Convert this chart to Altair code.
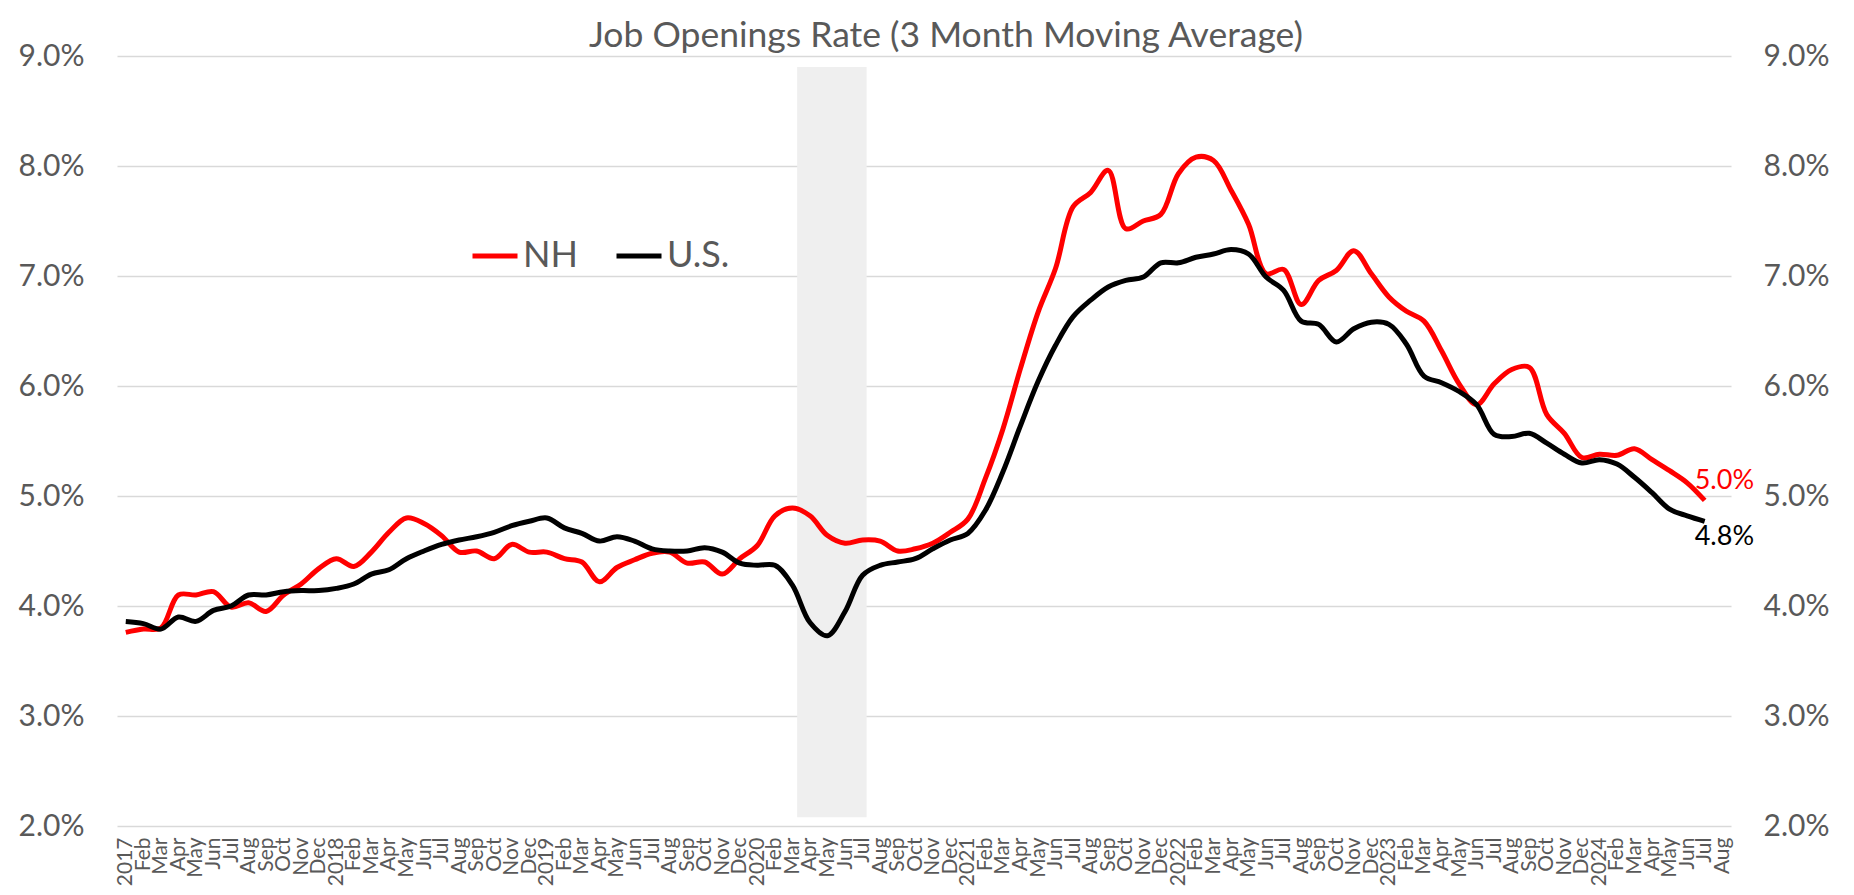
import altair as alt
import pandas as pd

# ---- data (monthly, Jan 2017 .. Jul 2024; axis runs to Aug 2024) ----
years = ["2017", "2018", "2019", "2020", "2021", "2022", "2023", "2024"]
month_abbr = ["Feb", "Mar", "Apr", "May", "Jun", "Jul", "Aug", "Sep", "Oct", "Nov", "Dec"]
tick_labels = []
for y in years:
    tick_labels += [y] + month_abbr
tick_labels = tick_labels[:92]  # 2017 .. Aug 2024

nh = [3.76, 3.79, 3.80, 4.10, 4.10, 4.13, 3.99, 4.03, 3.95, 4.10, 4.20, 4.34,
      4.43, 4.36, 4.49, 4.67, 4.80, 4.75, 4.64, 4.49, 4.50, 4.43, 4.56, 4.49,
      4.49, 4.43, 4.40, 4.22, 4.35, 4.42, 4.48, 4.49, 4.39, 4.40, 4.29, 4.43,
      4.55, 4.82, 4.89, 4.82, 4.64, 4.57, 4.60, 4.59, 4.50, 4.52, 4.57, 4.67,
      4.79, 5.16, 5.61, 6.16, 6.67, 7.07, 7.63, 7.76, 7.96, 7.43, 7.50, 7.56,
      7.93, 8.08, 8.05, 7.78, 7.47, 7.02, 7.06, 6.74, 6.96, 7.05, 7.23, 7.02,
      6.81, 6.68, 6.59, 6.32, 6.02, 5.83, 6.02, 6.15, 6.17, 5.74, 5.57, 5.35,
      5.38, 5.37, 5.43, 5.33, 5.23, 5.12, 4.96]

us = [3.86, 3.84, 3.79, 3.90, 3.86, 3.96, 4.00, 4.10, 4.10, 4.13, 4.14, 4.14,
      4.16, 4.20, 4.29, 4.33, 4.43, 4.50, 4.56, 4.60, 4.63, 4.67, 4.73, 4.77,
      4.80, 4.71, 4.66, 4.59, 4.63, 4.59, 4.52, 4.50, 4.50, 4.53, 4.49, 4.39,
      4.37, 4.37, 4.19, 3.85, 3.73, 3.95, 4.28, 4.37, 4.40, 4.43, 4.52, 4.60,
      4.66, 4.87, 5.22, 5.64, 6.04, 6.37, 6.63, 6.78, 6.90, 6.96, 6.99, 7.12,
      7.12, 7.17, 7.20, 7.24, 7.20, 6.99, 6.87, 6.59, 6.56, 6.40, 6.52, 6.58,
      6.56, 6.38, 6.09, 6.03, 5.95, 5.83, 5.56, 5.54, 5.57, 5.48, 5.38, 5.30,
      5.33, 5.29, 5.17, 5.03, 4.88, 4.82, 4.77]

series_names = ["NH", "U.S."]
series_colors = ["#ff0000", "#000000"]

# recession shading (month-index units, percent units)
shade = pd.DataFrame({"x": [38.27], "x2": [42.23], "y": [2.08], "y2": [8.9]})

rows = []
for name, vals in zip(series_names, [nh, us]):
    for i, v in enumerate(vals):
        rows.append({"idx": i, "series": name, "value": v})
df = pd.DataFrame(rows)

last = pd.DataFrame({
    "idx": [len(nh) - 1, len(us) - 1],
    "series": series_names,
    "value": [nh[-1], us[-1]],
})
last["label"] = last["value"].map(lambda v: f"{v:.1f}%")

FONT = "Lato"
GREY = "#595959"

label_array = "[" + ",".join("'" + t + "'" for t in tick_labels) + "]"

x_scale = alt.Scale(domain=[-0.5, len(tick_labels) - 0.5], nice=False, zero=False)
y_scale = alt.Scale(domain=[2, 9], nice=False, zero=False)
pct = "format(datum.value, '.1f') + '%'"

x_axis = alt.Axis(
    values=list(range(len(tick_labels))),
    labelExpr=label_array + "[datum.value]",
    labelAngle=270, labelAlign="right", labelBaseline="middle",
    labelFontSize=21, labelColor=GREY, labelPadding=11,
    ticks=False, domain=False, grid=False, labelOverlap=False,
    labelFlush=False, labelBound=False, title=None, labelFont=FONT,
)

left_axis = alt.Axis(
    values=[2, 3, 4, 5, 6, 7, 8, 9], labelExpr=pct, orient="left",
    grid=True, gridColor="#d9d9d9", gridWidth=1.5, ticks=False, domain=False,
    labelFontSize=30, labelPadding=33, labelColor=GREY, title=None, labelFont=FONT,
)
right_axis = alt.Axis(
    values=[2, 3, 4, 5, 6, 7, 8, 9], labelExpr=pct, orient="right",
    grid=False, ticks=False, domain=False,
    labelFontSize=30, labelPadding=32, labelColor=GREY, title=None, labelFont=FONT,
)

X_idx = alt.X("idx:Q", scale=x_scale, axis=x_axis)

shade_layer = alt.Chart(shade).mark_rect(color="#efefef").encode(
    x=alt.X("x:Q", scale=x_scale, axis=x_axis),
    x2="x2:Q",
    y=alt.Y("y:Q", scale=y_scale, axis=left_axis),
    y2="y2:Q",
)

lines = alt.Chart(df).mark_line(strokeWidth=5, interpolate="catmull-rom").encode(
    x=X_idx,
    y=alt.Y("value:Q", scale=y_scale, axis=right_axis),
    color=alt.Color(
        "series:N",
        scale=alt.Scale(domain=series_names, range=series_colors),
        sort=series_names,
        legend=alt.Legend(
            orient="none", legendX=353, legendY=175, direction="horizontal",
            title=None, symbolType="stroke", symbolSize=2025, symbolStrokeWidth=5,
            labelFontSize=36, labelColor=GREY, labelFont=FONT, labelOffset=3,
            columnPadding=28, padding=0,
        ),
    ),
)

nh_label = alt.Chart(last[last.series == "NH"]).mark_text(
    align="left", baseline="alphabetic", dx=-10, dy=-11, fontSize=27,
    font=FONT, color="#ff0000",
).encode(
    x=X_idx,
    y=alt.Y("value:Q", scale=y_scale, axis=None),
    text="label:N",
)
us_label = alt.Chart(last[last.series == "U.S."]).mark_text(
    align="left", baseline="top", dx=-10, dy=3, fontSize=27,
    font=FONT, color="#000000",
).encode(
    x=X_idx,
    y=alt.Y("value:Q", scale=y_scale, axis=None),
    text="label:N",
)

chart = alt.layer(shade_layer, lines, nh_label, us_label).resolve_axis(
    y="independent"
).properties(
    width=1614,
    height=770,
    autosize=alt.AutoSizeParams(type="none"),
    padding={"left": 109, "top": 48, "right": 115, "bottom": 61},
    title=alt.TitleParams(
        "Job Openings Rate (3 Month Moving Average)",
        fontSize=35.5, font=FONT, color=GREY, fontWeight="normal",
        anchor="middle", offset=-13, dx=22,
    ),
).configure(font=FONT).configure_view(stroke=None)

chart.save("out.html", embed_options={"renderer": "svg", "actions": False})
